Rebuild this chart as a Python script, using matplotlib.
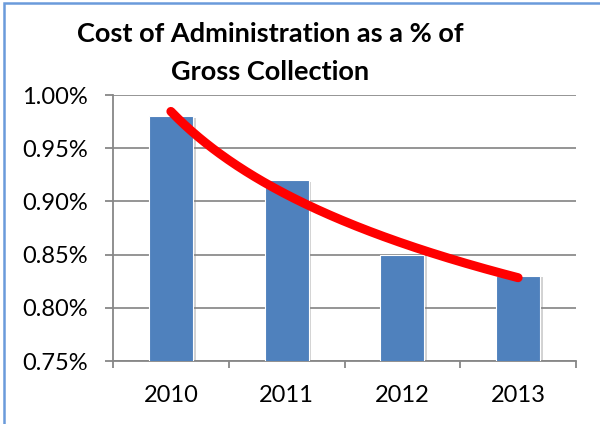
import numpy as np
import matplotlib
matplotlib.use('Agg')
import matplotlib.pyplot as plt
import matplotlib.patheffects as pe
from matplotlib.patches import Rectangle
from matplotlib.ticker import FuncFormatter

# Chart data
years = ['2010', '2011', '2012', '2013']
cost_pct = [0.98, 0.92, 0.85, 0.83]
yticks = [0.75, 0.80, 0.85, 0.90, 0.95, 1.00]
title_lines = ['Cost of Administration as a % of', 'Gross Collection']

plt.rcParams['font.family'] = ['Lato', 'DejaVu Sans']

fig = plt.figure(figsize=(6, 4.24), dpi=100)
ax = fig.add_axes([113/600, 63/424, 463/600, 266/424])

x = np.arange(len(years))
bars = ax.bar(x, cost_pct, width=0.38, color='#4F81BD', edgecolor='white',
              linewidth=0.8, zorder=3)
for b in bars:
    b.set_path_effects([pe.SimplePatchShadow(offset=(2, -1), shadow_rgbFace='#808080', alpha=0.35),
                        pe.Normal()])

# logarithmic trendline (like Excel)
a, b0 = np.polyfit(np.log(x + 1), cost_pct, 1)
xs = np.linspace(0, len(years) - 1, 200)
ax.plot(xs, a * np.log(xs + 1) + b0, color='#FF0000', lw=6.5,
        solid_capstyle='round', zorder=4)

ax.set_xlim(-0.5, len(years) - 0.5)
ax.set_ylim(yticks[0], yticks[-1])
ax.set_yticks(yticks)
ax.yaxis.set_major_formatter(FuncFormatter(lambda v, p: f'{v:.2f}%'))
ax.set_xticks(x)
ax.set_xticklabels(years)
ax.set_xticks(np.arange(-0.5, len(years)), minor=True)

ax.grid(axis='y', color='#8C8C8C', lw=1.3, zorder=0)
ax.set_axisbelow(True)
for s in ['top', 'right']:
    ax.spines[s].set_visible(False)
for s in ['left', 'bottom']:
    ax.spines[s].set_color('#878787')
    ax.spines[s].set_linewidth(1.3)

ax.tick_params(axis='y', length=6, width=1.3, color='#878787', pad=12, labelsize=17)
ax.tick_params(axis='x', which='major', length=0, pad=17, labelsize=17)
ax.tick_params(axis='x', which='minor', length=5, width=1.3, color='#878787')

# title, two lines
for i, line in enumerate(title_lines):
    fig.text(0.45, 1 - (42 + 38 * i) / 424, line, ha='center', va='baseline',
             fontsize=19.5, fontweight='bold')

# outer chart border (top and left only visible)
fig.patches.append(Rectangle((4/600, -0.1), 1.2, 1.1 - 3/424, transform=fig.transFigure,
                             fill=False, edgecolor='#6A9BDB', lw=1.8))

fig.savefig('out.png', dpi=100)
